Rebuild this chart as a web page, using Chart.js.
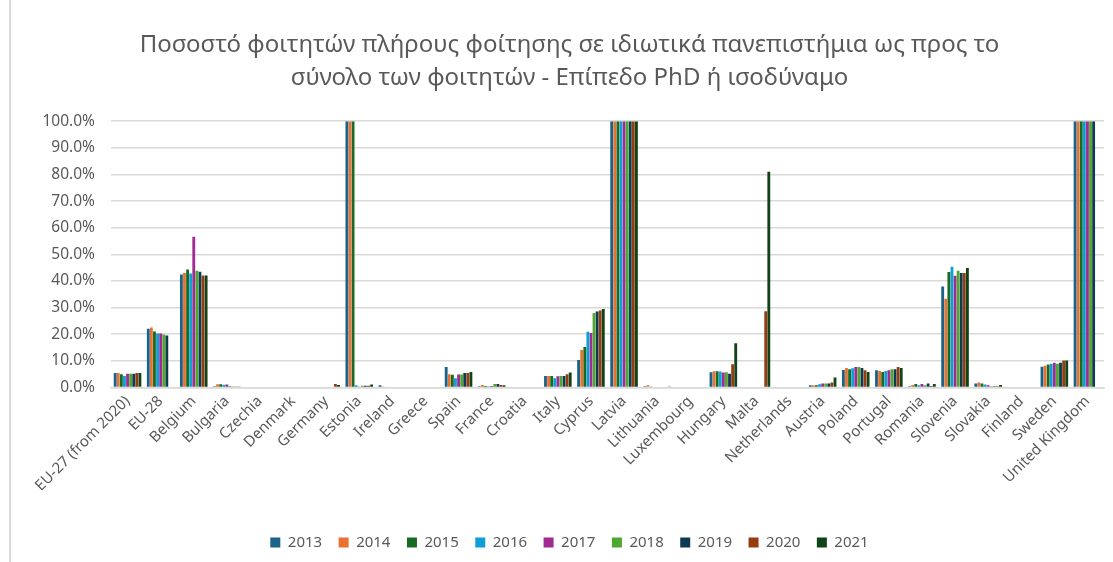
<!DOCTYPE html>
<html>
<head>
<meta charset="utf-8">
<script src="https://cdn.jsdelivr.net/npm/chart.js@4"></script>
<style>
  html, body { margin: 0; padding: 0; background: #ffffff; }
  #wrap { position: absolute; left: 9px; top: 0; width: 1104px; height: 562px; border-left: 2px solid #d9d9d9; box-sizing: border-box; }
  canvas { display: block; }
</style>
</head>
<body>
<div id="wrap"><canvas id="c"></canvas></div>
<script>
const categories = ["EU-27 (from 2020)", "EU-28", "Belgium", "Bulgaria", "Czechia", "Denmark", "Germany", "Estonia", "Ireland", "Greece", "Spain", "France", "Croatia", "Italy", "Cyprus", "Latvia", "Lithuania", "Luxembourg", "Hungary", "Malta", "Netherlands", "Austria", "Poland", "Portugal", "Romania", "Slovenia", "Slovakia", "Finland", "Sweden", "United Kingdom"];
const years = ["2013", "2014", "2015", "2016", "2017", "2018", "2019", "2020", "2021"];
const titleLines = ["Ποσοστό φοιτητών πλήρους φοίτησης σε ιδιωτικά πανεπιστήμια ως προς το", "σύνολο των φοιτητών - Επίπεδο PhD ή ισοδύναμο"];

//                EU27  EU28  BE    BG   CZ DK DE   EE    IE   EL ES   FR   HR IT   CY    LV   LT   LU HU   MT    NL AT   PL   PT   RO   SI    SK   FI SE    UK
const v2013 = [5.4, 22.1, 42.4, 0.5, 0, 0, 0,   100,  0.8, 0, 7.7, 0.5, 0, 4.3, 10.3, 100, 0.5, 0, 5.7, 0,    0, 0.8, 6.6, 6.5, 0.5, 37.9, 1.5, 0, 7.8,  100];
const v2014 = [5.4, 22.5, 43.0, 1.2, 0, 0, 0,   100,  0.4, 0, 5.0, 0.9, 0, 4.3, 14.1, 100, 0.8, 0, 6.1, 0,    0, 0.8, 7.3, 6.2, 0.9, 33.3, 1.9, 0, 8.2,  100];
const v2015 = [5.0, 21.0, 44.3, 1.2, 0, 0, 0,   100,  0,   0, 4.8, 0.6, 0, 4.3, 15.2, 100, 0.4, 0, 6.1, 0,    0, 0.8, 6.9, 5.8, 1.3, 43.4, 1.5, 0, 8.6,  100];
const v2016 = [4.3, 20.3, 42.8, 1.0, 0, 0, 0,   0.8,  0,   0, 3.5, 0.5, 0, 3.5, 20.9, 100, 0,   0, 6.0, 0,    0, 1.2, 7.2, 6.2, 0.8, 45.3, 1.1, 0, 8.9,  100];
const v2017 = [5.2, 20.3, 56.6, 1.1, 0, 0, 0,   0.4,  0,   0, 4.9, 0.6, 0, 4.2, 20.5, 100, 0,   0, 5.6, 0,    0, 1.5, 7.7, 6.5, 1.3, 42.0, 0.8, 0, 9.3,  100];
const v2018 = [5.2, 19.9, 43.8, 0.6, 0, 0, 0,   0.7,  0,   0, 4.9, 1.3, 0, 4.3, 28.0, 100, 0,   0, 5.7, 0,    0, 1.5, 7.7, 6.9, 0.8, 43.8, 0.5, 0, 8.9,  100];
const v2019 = [5.2, 19.5, 43.5, 0.4, 0, 0, 0,   0.7,  0,   0, 5.4, 1.3, 0, 4.3, 28.5, 100, 0,   0, 5.2, 0,    0, 1.5, 7.3, 6.9, 1.5, 43.0, 0.5, 0, 9.3,  100];
const v2020 = [5.4, null, 42.1, 0.4, 0, 0, 1.3, 0.7,  0,   0, 5.4, 0.9, 0, 5.0, 28.9, 100, 0,   0, 8.7, 28.6, 0, 1.9, 6.5, 7.7, 0.6, 43.0, 0.5, 0, 10.1, null];
const v2021 = [5.4, null, 42.1, 0.4, 0, 0, 0.9, 1.1,  0,   0, 5.8, 0.8, 0, 5.6, 29.5, 100, 0.4, 0, 16.6, 81.0, 0, 3.8, 5.8, 7.3, 1.3, 44.9, 0.9, 0, 10.1, null];

const seriesValues = [v2013, v2014, v2015, v2016, v2017, v2018, v2019, v2020, v2021];
const seriesColors = ["#1b6288", "#e97132", "#196b24", "#0f9ed5", "#a02b93", "#4ea72e", "#0e3a52", "#953d10", "#0f4318"];

const yTicks = [0, 10, 20, 30, 40, 50, 60, 70, 80, 90, 100];

const FONT = "'Noto Sans', 'DejaVu Sans', sans-serif";
const TXT = "#595959";

new Chart(document.getElementById('c'), {
  type: 'bar',
  data: {
    labels: categories,
    datasets: years.map((y, i) => ({
      label: y,
      data: seriesValues[i],
      backgroundColor: seriesColors[i],
      borderWidth: 0,
      categoryPercentage: 0.84,
      barPercentage: 0.92
    }))
  },
  options: {
    responsive: true,
    maintainAspectRatio: false,
    animation: false,
    layout: { padding: { left: 24, right: 9, top: 28, bottom: 2 } },
    plugins: {
      title: {
        display: true,
        text: titleLines,
        color: TXT,
        font: { family: FONT, size: 24, weight: 'normal', lineHeight: 1.4 },
        padding: { top: 0, bottom: 26 }
      },
      legend: {
        position: 'bottom',
        labels: {
          color: TXT,
          font: { family: FONT, size: 15 },
          boxWidth: 10,
          boxHeight: 10,
          padding: 16.5
        }
      },
      tooltip: { enabled: false }
    },
    scales: {
      x: {
        afterFit: (s) => { s.height = 131; },
        grid: { display: false, drawTicks: false },
        border: { color: '#d9d9d9', width: 1.5 },
        ticks: {
          color: TXT,
          font: { family: FONT, size: 15 },
          minRotation: 45,
          maxRotation: 45,
          autoSkip: false,
          padding: 5
        }
      },
      y: {
        min: 0,
        max: 100,
        afterFit: (s) => { s.width = 76; },
        afterBuildTicks: (axis) => { axis.ticks = yTicks.map(v => ({ value: v })); },
        grid: { color: '#d9d9d9', lineWidth: 1.5, drawTicks: false },
        border: { display: false },
        ticks: {
          color: TXT,
          font: { family: FONT, size: 15.5 },
          padding: 16,
          callback: (v) => Number(v).toFixed(1) + '%'
        }
      }
    }
  }
});
</script>
</body>
</html>
